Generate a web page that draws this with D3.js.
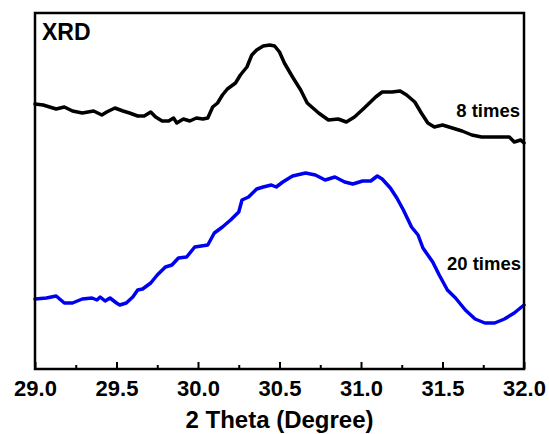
<!DOCTYPE html>
<html>
<head>
<meta charset="utf-8">
<script src="https://cdn.jsdelivr.net/npm/d3@7"></script>
<style>
  html, body { margin: 0; padding: 0; background: #fff; }
  svg { display: block; }
  text { font-family: Arial, "Liberation Sans", sans-serif; font-weight: bold; fill: #000; }
</style>
</head>
<body>
<svg id="chart" width="549" height="434"></svg>
<script>
// 2θ positions (degrees) and intensities (a.u., offset for stacking) of the 8-times pattern
const theta8 = [29.00, 29.05, 29.09, 29.13, 29.18, 29.23, 29.29, 29.36, 29.41, 29.44, 29.49, 29.54, 29.58, 29.63, 29.67, 29.71, 29.74, 29.78, 29.82, 29.85, 29.87, 29.91, 29.95, 29.99, 30.03, 30.06, 30.09, 30.12, 30.15, 30.18, 30.23, 30.26, 30.30, 30.33, 30.36, 30.40, 30.44, 30.47, 30.50, 30.53, 30.58, 30.63, 30.67, 30.74, 30.80, 30.86, 30.91, 30.96, 31.02, 31.09, 31.13, 31.19, 31.24, 31.28, 31.33, 31.37, 31.41, 31.45, 31.50, 31.56, 31.62, 31.68, 31.74, 31.80, 31.87, 31.91, 31.94, 31.98, 32.00];
const int8 = [265, 264, 262, 260, 262, 258, 256, 258, 254, 257, 261, 258, 256, 253, 253, 257, 252, 248, 248, 251, 246, 250, 248, 251, 250, 251, 262, 266, 274, 280, 286, 294, 302, 314, 319, 323, 324, 323, 317, 306, 292, 279, 266, 256, 249, 250, 247, 252, 261, 272, 277, 277, 278, 274, 267, 256, 246, 242, 244, 241, 238, 234, 232, 232, 232, 232, 227, 229, 226];

// 2θ positions and intensities of the 20-times pattern
const theta20 = [29.00, 29.07, 29.13, 29.18, 29.23, 29.29, 29.35, 29.38, 29.40, 29.43, 29.46, 29.50, 29.52, 29.56, 29.60, 29.63, 29.66, 29.71, 29.75, 29.80, 29.84, 29.88, 29.93, 29.98, 30.06, 30.10, 30.15, 30.20, 30.25, 30.27, 30.31, 30.36, 30.40, 30.45, 30.48, 30.52, 30.58, 30.66, 30.72, 30.78, 30.84, 30.90, 30.95, 31.01, 31.06, 31.10, 31.13, 31.18, 31.22, 31.26, 31.31, 31.35, 31.38, 31.44, 31.48, 31.53, 31.58, 31.64, 31.70, 31.76, 31.82, 31.88, 31.94, 32.00];
const int20 = [70, 71, 73, 66, 66, 70, 71, 69, 72, 68, 71, 66, 64, 66, 72, 79, 80, 86, 94, 102, 104, 111, 112, 122, 124, 136, 142, 149, 157, 169, 172, 180, 182, 184, 182, 187, 193, 196, 194, 189, 192, 187, 185, 188, 188, 193, 190, 181, 171, 159, 142, 134, 121, 107, 94, 79, 71, 59, 50, 46, 46, 50, 56, 64];

const xTicks = [29.0, 29.5, 30.0, 30.5, 31.0, 31.5, 32.0];
const xMinorTicks = [29.25, 29.75, 30.25, 30.75, 31.25, 31.75];
const seriesLabels = ["8 times", "20 times"];
const chartTitle = "XRD";
const xTitle = "2 Theta (Degree)";

const svg = d3.select("#chart");
const plotLeft = 35, plotRight = 524, plotTop = 13, plotBottom = 369;

const x = d3.scaleLinear().domain([29, 32]).range([plotLeft, plotRight]);
const y = d3.scaleLinear().domain([0, 356]).range([plotBottom, plotTop]);

const line = d3.line().x(d => x(d[0])).y(d => y(d[1]));

const series = [
  { pts: d3.zip(theta8, int8), color: "#000000" },
  { pts: d3.zip(theta20, int20), color: "#0000f0" }
];

svg.append("g")
  .selectAll("path")
  .data(series)
  .join("path")
  .attr("d", d => line(d.pts))
  .attr("fill", "none")
  .attr("stroke", d => d.color)
  .attr("stroke-width", 3.5)
  .attr("stroke-linejoin", "round")
  .attr("stroke-linecap", "round");

// minor ticks, pointing into the plot
svg.append("g")
  .attr("transform", `translate(0,${plotBottom})`)
  .call(d3.axisBottom(x).tickValues(xMinorTicks).tickSize(-4).tickFormat(""))
  .call(g => g.select(".domain").remove())
  .call(g => g.selectAll("line").attr("stroke", "#000").attr("stroke-width", 2));

// major ticks with labels
const xAxis = svg.append("g")
  .attr("transform", `translate(0,${plotBottom})`)
  .call(d3.axisBottom(x).tickValues(xTicks).tickSize(-7).tickFormat(d3.format(".1f")));
xAxis.select(".domain").remove();
xAxis.selectAll("line").attr("stroke", "#000").attr("stroke-width", 2);
xAxis.selectAll("text")
  .attr("y", 27)
  .attr("dy", null)
  .style("font-size", "22px")
  .style("font-weight", "bold")
  .style("font-family", "Arial, 'Liberation Sans', sans-serif")
  .attr("fill", "#000");

// plot frame
svg.append("rect")
  .attr("x", plotLeft).attr("y", plotTop)
  .attr("width", plotRight - plotLeft).attr("height", plotBottom - plotTop)
  .attr("fill", "none")
  .attr("stroke", "#000")
  .attr("stroke-width", 2.5);

svg.append("text")
  .attr("x", 42).attr("y", 40)
  .style("font-size", "23px")
  .text(chartTitle);

svg.append("text")
  .attr("x", 520).attr("y", 117)
  .attr("text-anchor", "end")
  .style("font-size", "18.5px")
  .text(seriesLabels[0]);

svg.append("text")
  .attr("x", 521).attr("y", 270)
  .attr("text-anchor", "end")
  .style("font-size", "18.5px")
  .text(seriesLabels[1]);

svg.append("text")
  .attr("x", (plotLeft + plotRight) / 2).attr("y", 428)
  .attr("text-anchor", "middle")
  .style("font-size", "24px")
  .text(xTitle);
</script>
</body>
</html>
